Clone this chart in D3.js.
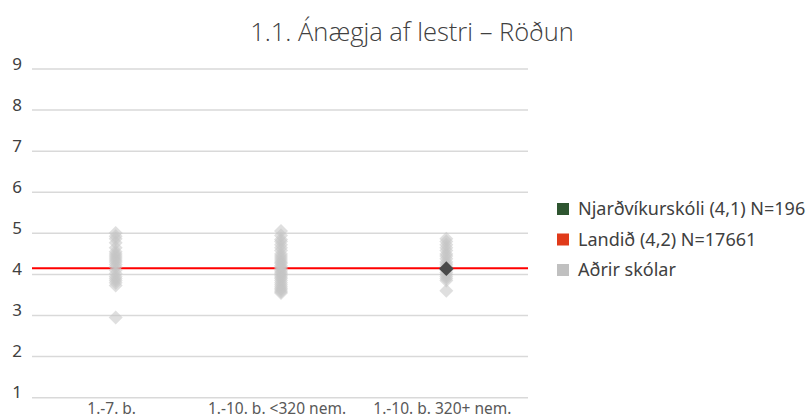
<!DOCTYPE html>
<html>
<head>
<meta charset="utf-8">
<script src="https://cdn.jsdelivr.net/npm/d3@7"></script>
<style>
  body { margin: 0; background: #fff; }
  text { font-family: "Noto Sans", "Open Sans", sans-serif; }
</style>
</head>
<body>
<div id="chart"></div>
<script>
// Chart data
const categories = ["1.-7. b.", "1.-10. b. <320 nem.", "1.-10. b. 320+ nem."];

// Other schools, one array per category
const otherSmall = [5.01, 4.93, 4.87, 4.77, 4.65, 4.55, 4.5, 4.45, 4.4, 4.35, 4.3, 4.24, 4.18, 4.1,
    4.02, 3.95, 3.9, 3.85, 3.8, 3.73, 2.95];
const otherMid = [5.06, 4.95, 4.85, 4.8, 4.72, 4.65, 4.58, 4.5, 4.45, 4.4, 4.35, 4.3, 4.27, 4.22,
    4.18, 4.15, 4.1, 4.06, 4.02, 3.98, 3.94, 3.9, 3.85, 3.8, 3.75, 3.7, 3.66, 3.62, 3.58, 3.55];
const otherLarge = [4.87, 4.8, 4.72, 4.65, 4.58, 4.5, 4.45, 4.38, 4.3, 4.25, 4.2, 4.1, 4.05, 4.0,
    3.95, 3.9, 3.85, 3.6];
const otherSchools = [otherSmall, otherMid, otherLarge];

// The school itself and the national average
const schoolCategory = "1.-10. b. 320+ nem.";
const schoolValue = 4.14;
const nationalValue = 4.15;

const yTicks = [1, 2, 3, 4, 5, 6, 7, 8, 9];
const legendLabels = ["Njarðvíkurskóli (4,1) N=196", "Landið (4,2) N=17661", "Aðrir skólar"];
const legendColors = ["#2e5530", "#e03a1a", "#c0c0c0"];

const width = 811;
const height = 418;

const svg = d3.select("#chart")
    .append("svg")
    .attr("width", width)
    .attr("height", height);

// Scales
const x = d3.scaleBand()
    .domain(categories)
    .range([32, 528]);

const y = d3.scaleLinear()
    .domain([1, 9])
    .range([397.7, 69]);

// Title
svg.append("text")
    .attr("x", 412)
    .attr("y", 41)
    .attr("text-anchor", "middle")
    .style("font-family", "'Open Sans', 'Noto Sans', sans-serif")
    .style("font-size", "25.5px")
    .style("font-weight", 300)
    .style("fill", "#404040")
    .text("1.1. Ánægja af lestri – Röðun");

// Gridlines
svg.append("g")
    .selectAll("line")
    .data(yTicks)
    .join("line")
    .attr("x1", x.range()[0])
    .attr("x2", x.range()[1])
    .attr("y1", d => y(d))
    .attr("y2", d => y(d))
    .attr("stroke", "#d9d9d9")
    .attr("stroke-width", 1.5);

// Y tick labels
svg.append("g")
    .selectAll("text")
    .data(yTicks)
    .join("text")
    .attr("x", 22)
    .attr("y", d => y(d) + 0.5)
    .attr("text-anchor", "end")
    .style("font-size", "17px")
    .style("fill", "#404040")
    .text(d => d);

// X category labels
svg.append("g")
    .selectAll("text")
    .data(categories)
    .join("text")
    .attr("x", d => x(d) + x.bandwidth() / 2 - 3)
    .attr("y", 414)
    .attr("text-anchor", "middle")
    .style("font-size", "15.5px")
    .style("fill", "#595959")
    .text(d => d);

// National average line
svg.append("line")
    .attr("x1", x.range()[0])
    .attr("x2", x.range()[1])
    .attr("y1", y(nationalValue))
    .attr("y2", y(nationalValue))
    .attr("stroke", "#ff0000")
    .attr("stroke-width", 2);

// Diamond markers
const diamond = d3.symbol(d3.symbolSquare, 98);

const points = [];
otherSchools.forEach((vals, i) => {
    vals.forEach(v => points.push({ cat: categories[i], value: v }));
});

svg.append("g")
    .selectAll("path")
    .data(points)
    .join("path")
    .attr("d", diamond)
    .attr("transform", d => `translate(${x(d.cat) + x.bandwidth() / 2 + 1},${y(d.value)}) rotate(45)`)
    .attr("fill", "#c4c4c4")
    .attr("fill-opacity", 0.55);

svg.append("path")
    .attr("d", d3.symbol(d3.symbolSquare, 110))
    .attr("transform", `translate(${x(schoolCategory) + x.bandwidth() / 2 + 1},${y(schoolValue)}) rotate(45)`)
    .attr("fill", "#4a4a4a");

// Legend
const legend = svg.append("g")
    .selectAll("g")
    .data(legendLabels)
    .join("g")
    .attr("transform", (d, i) => `translate(557,${209 + i * 30.5})`);

legend.append("rect")
    .attr("x", 0)
    .attr("y", -6)
    .attr("width", 12)
    .attr("height", 12)
    .attr("fill", (d, i) => legendColors[i]);

legend.append("text")
    .attr("x", 21)
    .attr("y", 0)
    .attr("dy", "0.35em")
    .style("font-size", "18px")
    .style("fill", "#404040")
    .text(d => d);
</script>
</body>
</html>
